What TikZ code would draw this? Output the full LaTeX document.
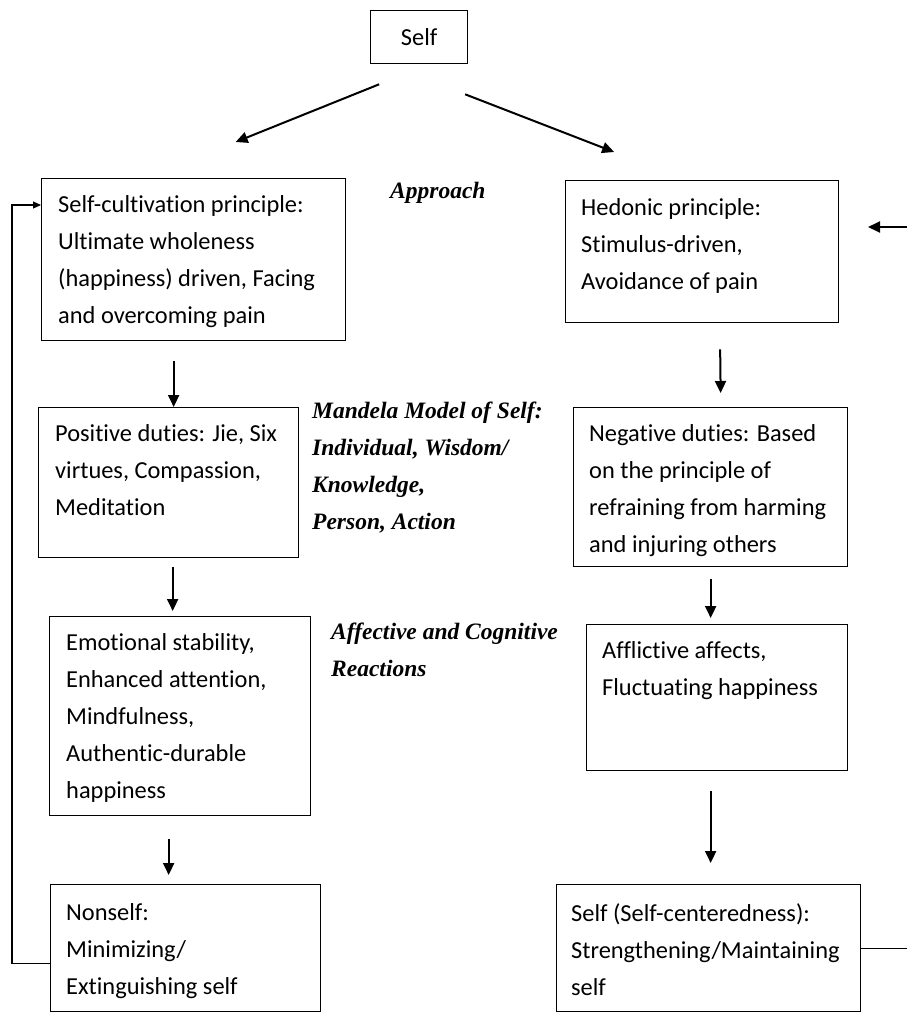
\documentclass[tikz,border=0pt]{standalone}
\usepackage{fontspec}
\setmainfont{Carlito}[Ligatures=NoCommon]
\newfontfamily\notefont{Liberation Serif}
\usetikzlibrary{arrows.meta,calc}
\begin{document}
\begin{tikzpicture}[x=1pt,y=-1pt,
  box/.style={draw, line width=1.3pt, inner sep=0pt, anchor=north west},
  boxtext/.style={anchor=north west, inner sep=0pt, align=left,
    font=\fontsize{24.4}{37}\selectfont},
  note/.style={anchor=north west, inner sep=0pt, align=left,
    font=\notefont\bfseries\itshape\fontsize{23.5}{37}\selectfont},
  flow/.style={line width=2pt, -{Triangle[length=12pt,width=11pt]}},
  loopline/.style={line width=1.1pt}]
\useasboundingbox (0,0) rectangle (907,1012);

% top node
\node[box, minimum width=97pt, minimum height=53pt] (self) at (370,10) {};
\node[font=\fontsize{24.4}{30}\selectfont, inner sep=0pt] (selft) at (self.center) {Self};

% left column
\node[box, minimum width=304pt, minimum height=162pt] (b1) at (41,178) {};
\node[boxtext] (b1t) at (58,195) {Self-cultivation principle:\\Ultimate wholeness\\(happiness) driven, Facing\\and overcoming pain};

\node[box, minimum width=260pt, minimum height=150pt] (b3) at (38,407) {};
\node[boxtext] (b3t) at (55,424) {Positive duties: Jie, Six\\virtues, Compassion,\\Meditation};

\node[box, minimum width=261pt, minimum height=199pt] (b5) at (49,616) {};
\node[boxtext] (b5t) at (66,633) {Emotional stability,\\Enhanced attention,\\Mindfulness,\\Authentic-durable\\happiness};

\node[box, minimum width=270pt, minimum height=127pt] (b7) at (50,884) {};
\node[boxtext] (b7t) at (66,903) {Nonself:\\Minimizing/\\Extinguishing self};

% right column
\node[box, minimum width=273pt, minimum height=142pt] (b2) at (565,180) {};
\node[boxtext] (b2t) at (581,198) {Hedonic principle:\\Stimulus-driven,\\Avoidance of pain};

\node[box, minimum width=274pt, minimum height=159pt] (b4) at (573,407) {};
\node[boxtext] (b4t) at (589,424) {Negative duties: Based\\on the principle of\\refraining from harming\\and injuring others};

\node[box, minimum width=261pt, minimum height=146pt] (b6) at (586,624) {};
\node[boxtext] (b6t) at (602,641) {Afflictive affects,\\Fluctuating happiness};

\node[box, minimum width=304pt, minimum height=127pt] (b8) at (556,884) {};
\node[boxtext] (b8t) at (571,903) {Self (Self-centeredness):\\Strengthening/Maintaining\\self};

% italic annotations
\node[note] (approach) at (390,182) {Approach};
\node[note] (mandela) at (312,402) {Mandela Model of Self:\\Individual, Wisdom/\\Knowledge,\\Person, Action};
\node[note] (affective) at (331,623) {Affective and Cognitive\\Reactions};

% main flow
\draw[flow] ($(self.south)+(-40,20)$) -- ($(b1.north)+(42,-36)$);
\draw[flow] ($(self.south)+(46,30)$) -- ($(b2.north)+(-88,-28)$);
\draw[flow] ($(b1.south)+(-20,20)$) -- ($(b3.north)+(5,0)$);
\draw[flow] ($(b2.south)+(18,26)$) -- ($(b4.north)+(10,-14)$);
\draw[flow] ($(b3.south)+(4,9)$) -- ($(b5.north)+(-7.5,-5)$);
\draw[flow] ($(b4.south)+(0,12)$) -- ($(b6.north)+(-6.5,-6)$);
\draw[flow] ($(b5.south)+(-11.5,23)$) -- ($(b7.north)+(-17,-9)$);
\draw[flow] ($(b6.south)+(-6.5,20)$) -- ($(b8.north)+(2,-21)$);

% feedback on the left
\draw[loopline, -{Triangle[length=8pt,width=7pt]}]
  ($(b7.west)+(0,15)$) -- ++(-38,0) |- ($(b1.north west)+(0,27)$);

% connectors at the right edge
\coordinate (rin) at (907,227);
\coordinate (rout) at (907,948);
\draw[flow] (rin) -- ++(-39,0);
\draw[loopline] (b8.east) -- (b8.east -| rout);
\end{tikzpicture}
\end{document}
